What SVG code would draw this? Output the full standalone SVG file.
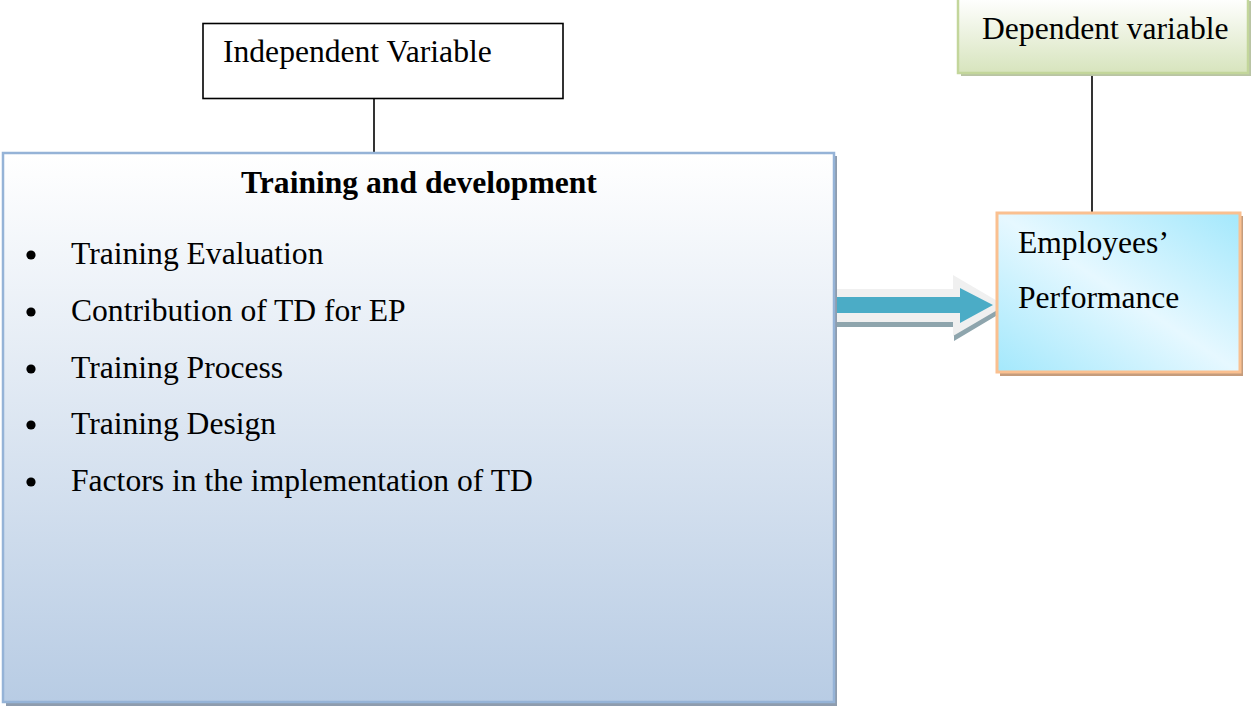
<svg xmlns="http://www.w3.org/2000/svg" width="1252" height="708" viewBox="0 0 1252 708">
<style>
text{font-family:"Liberation Serif","Times New Roman",serif;font-size:31.6px;fill:#000}
.b{font-weight:bold}
.conn{stroke:#000;stroke-width:1.6;fill:none}
</style>
<defs>
<linearGradient id="gMain" x1="0" y1="0" x2="0" y2="1">
<stop offset="0" stop-color="#ffffff"/>
<stop offset="1" stop-color="#b8cce4"/>
</linearGradient>
<linearGradient id="gDep" x1="0" y1="0" x2="0" y2="1">
<stop offset="0" stop-color="#ffffff"/>
<stop offset="1" stop-color="#d7e4bd"/>
</linearGradient>
<linearGradient id="gEmp" x1="1" y1="0" x2="0" y2="1">
<stop offset="0" stop-color="#a3e8fc"/>
<stop offset="0.5" stop-color="#e6f8ff"/>
<stop offset="1" stop-color="#a3e8fc"/>
</linearGradient>
</defs>
<rect width="1252" height="708" fill="#ffffff"/>
<g id="connectors">
<line class="conn" x1="374" y1="98" x2="374" y2="153"/>
<line class="conn" x1="1092" y1="73" x2="1092" y2="213"/>
<g id="arrow">
<polygon points="837,294 954,294 954,280 1006,310 954,341 954,327 837,327" fill="#8ea5ad"/>
<polygon points="836,289 953,289 953,275 1005,305.5 953,336 953,322 836,322" fill="#f0f0f0"/>
<polygon points="837,297 960,297 960,288 993,305 960,323 960,313 837,313" fill="#4bacc6"/>
</g>
</g>
<g id="independent">
<rect x="203" y="23.5" width="360" height="75" fill="#ffffff" stroke="#000" stroke-width="1.6"/>
<text x="223" y="62">Independent Variable</text>
</g>
<g id="dependent">
<rect x="961" y="1" width="290" height="75" fill="#b9c4a4"/>
<rect x="958" y="-2" width="290" height="75" fill="url(#gDep)" stroke="#c3d69b" stroke-width="2.5"/>
<text x="982" y="39">Dependent variable</text>
</g>
<g id="training">
<rect x="6" y="156" width="831" height="550" fill="#8e9cae"/>
<rect x="3" y="153" width="831" height="549" fill="url(#gMain)" stroke="#95b3d7" stroke-width="2.5"/>
<text class="b" x="419" y="193" text-anchor="middle">Training and development</text>
<g fill="#000">
<circle cx="31" cy="255" r="4.6"/>
<circle cx="31" cy="312" r="4.6"/>
<circle cx="31" cy="369" r="4.6"/>
<circle cx="31" cy="425" r="4.6"/>
<circle cx="31" cy="482" r="4.6"/>
</g>
<text x="71" y="264">Training Evaluation</text>
<text x="71" y="321">Contribution of TD for EP</text>
<text x="71" y="378">Training Process</text>
<text x="71" y="434">Training Design</text>
<text x="71" y="491">Factors in the implementation of TD</text>
</g>
<g id="employees">
<rect x="1000" y="216" width="243" height="160" fill="#c59c7c"/>
<rect x="997" y="213" width="243" height="159" fill="url(#gEmp)" stroke="#fac090" stroke-width="3"/>
<text x="1018" y="253">Employees’</text>
<text x="1018" y="308">Performance</text>
</g>
</svg>
